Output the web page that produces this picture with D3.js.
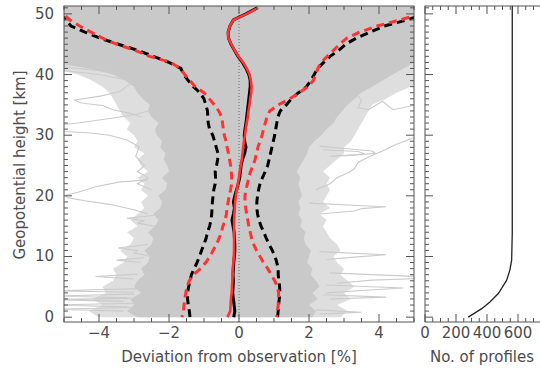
<!DOCTYPE html>
<html>
<head>
<meta charset="utf-8">
<script src="https://cdn.jsdelivr.net/npm/d3@7"></script>
<style>
  body { margin: 0; background: #fff; }
  svg text { font-family: "DejaVu Sans", sans-serif; fill: #4d4d4d; }
</style>
</head>
<body>
<div id="chart"></div>
<script>
// heights (km) shared by the mean / spread profiles
const heights = [0,1,2,3,4,5,6,7,8,9,10,11,12,13,14,15,16,17,18,19,20,21,22,23,24,25,
  26,27,28,29,30,31,32,33,34,35,36,37,38,39,40,41,42,43,44,45,46,47,48,49,50,51];

// mean deviation [%]
const meanRed = [-0.33,-0.25,-0.24,-0.23,-0.21,-0.2,-0.19,-0.18,-0.18,-0.16,-0.15,-0.14,-0.14,-0.14,-0.14,-0.14,
  -0.14,-0.13,-0.12,-0.11,-0.09,-0.06,-0.03,0.0,0.02,0.05,0.08,0.1,0.12,0.14,0.17,0.19,0.22,0.25,0.27,0.3,
  0.32,0.35,0.36,0.34,0.3,0.22,0.12,-0.02,-0.12,-0.22,-0.3,-0.31,-0.26,-0.16,0.22,0.55];
const meanBlack = [-0.15,-0.12,-0.14,-0.16,-0.18,-0.17,-0.16,-0.17,-0.16,-0.15,-0.13,-0.12,-0.12,-0.13,-0.14,-0.17,
  -0.2,-0.16,-0.13,-0.16,-0.12,-0.07,-0.02,0.02,0.04,0.06,0.1,0.16,0.2,0.16,0.15,0.17,0.2,0.22,0.24,0.26,
  0.28,0.3,0.32,0.32,0.28,0.2,0.1,-0.03,-0.13,-0.23,-0.3,-0.31,-0.26,-0.16,0.2,0.52];

// spread (dashed) lower / upper
const sdRedLo = [-1.63,-1.59,-1.57,-1.55,-1.52,-1.49,-1.42,-1.3,-1.1,-0.95,-0.83,-0.74,-0.64,-0.57,-0.5,-0.46,
  -0.4,-0.36,-0.34,-0.31,-0.28,-0.24,-0.21,-0.21,-0.22,-0.24,-0.27,-0.3,-0.34,-0.37,-0.42,-0.45,-0.47,-0.49,-0.58,-0.7,
  -0.85,-1.0,-1.25,-1.4,-1.55,-1.68,-1.95,-2.55,-2.97,-3.5,-3.9,-4.23,-4.55,-4.83,-5.02,-5.2];
const sdBlackLo = [-1.4,-1.42,-1.45,-1.47,-1.47,-1.44,-1.4,-1.36,-1.28,-1.2,-1.13,-1.07,-1.0,-0.94,-0.9,-0.84,
  -0.8,-0.78,-0.77,-0.76,-0.74,-0.72,-0.68,-0.67,-0.68,-0.64,-0.61,-0.6,-0.65,-0.7,-0.75,-0.84,-0.88,-0.89,-0.9,-0.95,
  -1.0,-1.12,-1.3,-1.45,-1.58,-1.66,-2.0,-2.45,-2.9,-3.45,-3.97,-4.4,-4.8,-4.95,-5.1,-5.3];
const sdRedHi = [1.08,1.1,1.12,1.13,1.13,1.1,1.02,0.92,0.82,0.7,0.6,0.5,0.42,0.36,0.32,0.28,
  0.25,0.22,0.19,0.17,0.17,0.2,0.24,0.28,0.33,0.4,0.46,0.5,0.54,0.6,0.66,0.7,0.75,0.8,0.88,1.12,
  1.45,1.72,1.97,2.12,2.2,2.25,2.35,2.52,2.7,2.88,3.08,3.45,3.95,4.6,5.2,5.6];
const sdBlackHi = [1.1,1.12,1.13,1.15,1.17,1.16,1.14,1.12,1.12,1.08,1.03,0.95,0.86,0.78,0.71,0.63,
  0.57,0.53,0.51,0.51,0.53,0.56,0.6,0.67,0.75,0.82,0.86,0.9,0.94,0.98,1.02,1.05,1.08,1.11,1.18,1.35,
  1.5,1.7,1.93,2.05,2.15,2.24,2.42,2.6,2.85,3.05,3.35,3.75,4.15,4.8,5.3,5.6];

// edges of the dense grey bundle of individual profiles
const envLeft = [-2.9,-3.2,-3.0,-3.1,-2.8,-3.0,-2.9,-2.7,-2.8,-2.6,-2.55,-2.7,-2.5,-2.45,-2.6,-2.4,
  -2.3,-2.45,-2.25,-2.2,-2.3,-2.1,-2.05,-2.2,-2.0,-2.05,-2.15,-2.1,-2.25,-2.2,-2.35,-2.4,-2.3,-2.5,-2.6,-2.55,
  -2.75,-2.9,-3.0,-3.25,-3.6,-4.3,-5.3,-5.3,-5.3,-5.3,-5.3,-5.3,-5.3,-5.3,-5.3,-5.3];
const envRight = [2.1,2.2,2.0,2.25,2.1,2.3,2.2,2.05,2.1,1.95,2.0,2.05,1.9,1.85,1.9,1.75,
  1.8,1.7,1.75,1.7,1.8,1.75,1.7,1.75,1.65,1.75,1.85,1.95,2.0,2.15,2.35,2.5,2.7,2.8,2.95,3.1,
  3.3,3.5,3.8,4.1,4.4,4.7,5.0,5.3,5.3,5.3,5.3,5.3,5.3,5.3,5.3,5.3];
// outer edges of the looser fringe of profiles
const fringeLeft = [-4.0,-4.3,-3.9,-4.2,-3.8,-3.9,-3.6,-3.5,-3.6,-3.3,-3.2,-3.4,-3.1,-3.0,-3.2,-2.9,
  -3.1,-2.9,-2.7,-2.8,-2.6,-2.8,-2.7,-2.9,-2.6,-2.8,-2.9,-2.7,-3.0,-2.9,-3.0,-3.2,-3.1,-3.3,-3.4,-3.5,
  -3.6,-3.7,-3.9,-4.2,-4.6,-5.3,-5.3,-5.3,-5.3,-5.3,-5.3,-5.3,-5.3,-5.3,-5.3,-5.3];
const fringeRight = [2.9,3.1,2.8,3.2,3.0,3.3,3.1,2.9,3.0,2.8,2.7,2.9,2.8,2.6,2.5,2.4,
  2.5,2.3,2.6,2.4,2.5,2.6,2.5,2.6,2.4,2.6,2.8,3.0,3.0,3.2,3.3,3.4,3.5,3.6,3.7,3.8,
  4.2,4.5,4.9,5.3,5.3,5.3,5.3,5.3,5.3,5.3,5.3,5.3,5.3,5.3,5.3,5.3];

// single profiles that stick out of the bundle: [km, %]
const outliers = [
  [[38.5,-3.1],[37.2,-3.4],[36.4,-4.0],[35.8,-4.7],[35.3,-4.5],[34.9,-3.9],[34.2,-3.6],[33.6,-3.1],[33.0,-2.8]],
  [[31.6,-5.3],[32.0,-4.6],[32.5,-4.0],[33.0,-3.4],[33.5,-2.9],[34.0,-2.6]],
  [[30.7,-5.3],[30.4,-4.3],[30.0,-3.7],[29.2,-3.2],[28.1,-2.85],[26.5,-2.95],[25.0,-2.7],[24.0,-2.9],[23.0,-2.6],[22.0,-2.9],[21.0,-2.5]],
  [[22.6,-2.6],[22.3,-3.4],[21.5,-4.1],[20.6,-4.6],[20.1,-4.95],[19.7,-4.9],[19.2,-4.4],[18.6,-3.7],[17.7,-3.0],[17.0,-2.6]],
  [[41.5,-5.3],[41.0,-4.6],[40.6,-3.9],[40.2,-3.5]],
  [[40.8,-5.3],[40.2,-4.3],[39.8,-3.8],[39.2,-3.3]],
  [[16.8,-2.4],[16.3,-3.2],[15.9,-2.7],[15.5,-2.9],[15.0,-2.4]],
  [[12.0,-2.6],[11.4,-3.45],[11.0,-2.9],[10.6,-3.0],[10.0,-2.5]],
  [[9.8,-2.7],[9.4,-3.5],[9.0,-2.8]],
  [[7.1,-2.9],[6.7,-4.1],[6.3,-3.0]],
  [[4.7,-2.8],[4.35,-5.3],[4.1,-3.0]],
  [[3.8,-3.0],[3.5,-5.3],[3.2,-3.2]],
  [[3.1,-3.1],[2.9,-5.3],[2.6,-3.3]],
  [[2.3,-3.0],[2.0,-5.3],[1.7,-3.2]],
  [[1.6,-3.1],[1.3,-5.3],[1.0,-3.3]],
  [[29.9,5.3],[29.5,4.95],[28.5,4.5],[27.4,4.1],[26.4,3.7],[25.5,3.4],[24.5,3.3],[23.9,3.15],[23.0,2.8],[22.0,2.6],[21.0,2.2]],
  [[28.2,2.3],[27.8,3.0],[27.4,3.8],[27.0,3.9],[26.7,3.3],[26.5,2.6]],
  [[27.6,2.4],[27.3,3.4],[26.9,3.6],[26.6,2.8]],
  [[36.5,3.4],[35.8,3.5],[34.5,3.4],[34.2,3.7],[35.6,4.1],[34.2,4.4],[35.3,5.3]],
  [[18.8,2.0],[18.4,3.4],[18.2,4.2],[17.9,3.5],[17.5,3.3],[17.0,2.3]],
  [[10.8,2.3],[10.3,4.2],[9.9,3.3],[9.5,2.5]],
  [[7.3,2.6],[6.7,5.1],[6.4,5.3],[6.1,3.8],[5.6,2.8]],
  [[5.3,2.5],[4.8,4.7],[4.4,3.5],[4.0,2.5]],
  [[3.7,2.4],[3.3,4.2],[3.0,2.6]],
  [[1.2,2.2],[0.8,3.5],[0.5,2.3]]
];

// number of profiles available per height
const countKm = [0, 1.4, 2.5, 3.9, 6.1, 7.8, 9.4, 13.9, 51.3];
const countN  = [279, 366, 419, 473, 527, 548, 559, 563, 563];

const xTicks = [-4, -2, 0, 2, 4];
const yTicks = [0, 10, 20, 30, 40, 50];
const nTicks = [0, 200, 400, 600];

const W = 540, H = 374;
const svg = d3.select("#chart").append("svg")
  .attr("width", W).attr("height", H);

const x = d3.scaleLinear().domain([-5, 5]).range([64, 414]);
const y = d3.scaleLinear().domain([-0.8, 51.3]).range([322, 6]);
const xn = d3.scaleLinear().domain([0, 800]).range([425, 549]);

svg.append("clipPath").attr("id", "clipMain")
  .append("rect").attr("x", 64).attr("y", 6).attr("width", 350).attr("height", 316);

const main = svg.append("g").attr("clip-path", "url(#clipMain)");

const line = d3.line().x(d => x(d[1])).y(d => y(d[0]));
const zip = vals => heights.map((h, i) => [h, vals[i]]);
const band = d3.area().y(d => y(d[0])).x0(d => x(d[1])).x1(d => x(d[2]));

// grey bundle: loose fringe, then the dense core
main.append("path")
  .datum(heights.map((h, i) => [h, fringeLeft[i], fringeRight[i]]))
  .attr("fill", "#dedede").attr("d", band);
main.append("path")
  .datum(heights.map((h, i) => [h, envLeft[i], envRight[i]]))
  .attr("fill", "#c9c9c9").attr("d", band);
main.append("rect")
  .attr("x", 64).attr("y", 6).attr("width", 350).attr("height", y(51) - 6 + 1)
  .attr("fill", "#c9c9c9");

main.selectAll("path.outlier").data(outliers).enter().append("path")
  .attr("class", "outlier")
  .attr("fill", "none").attr("stroke", "#cbcbcb").attr("stroke-width", 1.1)
  .attr("d", line);

// zero line
main.append("line")
  .attr("x1", x(0)).attr("x2", x(0)).attr("y1", 6).attr("y2", 322)
  .attr("stroke", "#6e6e6e").attr("stroke-width", 1).attr("stroke-dasharray", "1,2");

const dashed = [
  { v: sdBlackLo, c: "#000", off: 0 },
  { v: sdBlackHi, c: "#000", off: 0 },
  { v: sdRedLo, c: "#ff3333", off: 6 },
  { v: sdRedHi, c: "#ff3333", off: 6 }
];
dashed.forEach(s => {
  main.append("path").datum(zip(s.v))
    .attr("fill", "none").attr("stroke", s.c).attr("stroke-width", 3)
    .attr("stroke-dasharray", "8,5").attr("stroke-dashoffset", s.off)
    .attr("d", line);
});

main.append("path").datum(zip(meanBlack))
  .attr("fill", "none").attr("stroke", "#000").attr("stroke-width", 3).attr("d", line);
main.append("path").datum(zip(meanRed))
  .attr("fill", "none").attr("stroke", "#ff3333").attr("stroke-width", 2.6).attr("d", line);

// axes (ticks pointing inward on all sides)
function frame(g, xs, ys, xMajor, xMinor, yMinor, labelX, labelY) {
  const [x0, x1] = xs.range();
  const [y0, y1] = ys.range();
  const ax = g.append("g").attr("stroke", "#555").attr("stroke-width", 1);
  ax.append("rect").attr("x", x0).attr("y", y1).attr("width", x1 - x0).attr("height", y0 - y1)
    .attr("fill", "none");
  xMinor.forEach(v => {
    const len = xMajor.includes(v) ? 8 : 4;
    ax.append("line").attr("x1", xs(v)).attr("x2", xs(v)).attr("y1", y0).attr("y2", y0 - len);
    ax.append("line").attr("x1", xs(v)).attr("x2", xs(v)).attr("y1", y1).attr("y2", y1 + len);
  });
  yMinor.forEach(v => {
    const len = v % 10 === 0 ? 8 : 4;
    ax.append("line").attr("x1", x0).attr("x2", x0 + len).attr("y1", ys(v)).attr("y2", ys(v));
    ax.append("line").attr("x1", x1).attr("x2", x1 - len).attr("y1", ys(v)).attr("y2", ys(v));
  });
  if (labelX) {
    g.selectAll(null).data(labelX).enter().append("text")
      .attr("x", d => xs(d)).attr("y", y0 + 16).attr("text-anchor", "middle")
      .style("font-size", "15px").text(d3.format("d"));
  }
  if (labelY) {
    g.selectAll(null).data(labelY).enter().append("text")
      .attr("x", x0 - 10).attr("y", d => ys(d) + 5).attr("text-anchor", "end")
      .style("font-size", "15px").text(d3.format("d"));
  }
}

const yMinorTicks = d3.range(0, 52, 1);
frame(svg.append("g"), x, y, xTicks, d3.range(-5, 5.01, 0.5).map(v => +v.toFixed(1)), yMinorTicks, xTicks, yTicks);
frame(svg.append("g"), xn, y, [0, 200, 400, 600, 800], d3.range(0, 801, 50), yMinorTicks, nTicks, null);

svg.append("path").datum(countKm.map((k, i) => [k, countN[i]]))
  .attr("fill", "none").attr("stroke", "#222").attr("stroke-width", 1.3)
  .attr("d", d3.line().x(d => xn(d[1])).y(d => y(d[0])));

// axis titles
svg.append("text").attr("x", 239).attr("y", 362).attr("text-anchor", "middle")
  .style("font-size", "15px").text("Deviation from observation [%]");
svg.append("text").attr("x", 482).attr("y", 362).attr("text-anchor", "middle")
  .style("font-size", "15px").text("No. of profiles");
svg.append("text").attr("transform", "translate(25,165) rotate(-90)").attr("text-anchor", "middle")
  .style("font-size", "15px").text("Geopotential height [km]");
</script>
</body>
</html>
